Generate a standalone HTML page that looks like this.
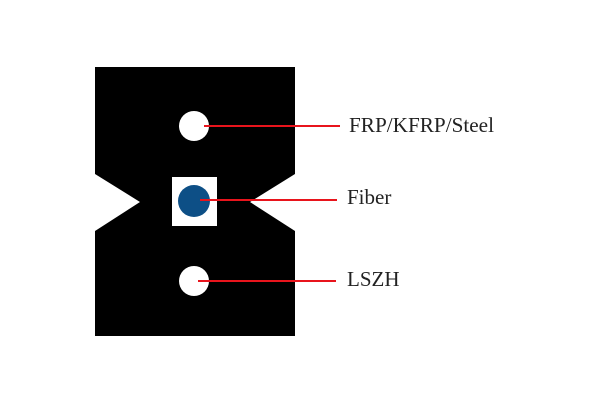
<!DOCTYPE html>
<html><head><style>html,body{margin:0;padding:0;background:#fff}</style></head>
<body>
<svg width="600" height="400" xmlns="http://www.w3.org/2000/svg">
<rect width="600" height="400" fill="#fff"/>
<polygon points="95,67 295,67 295,174 250,202 295,231 295,336 95,336 95,231 140,202 95,174" fill="#000"/>
<rect x="172" y="177" width="45" height="49" fill="#fff"/>
<circle cx="194" cy="126" r="15" fill="#fff"/>
<circle cx="194" cy="201" r="16" fill="#0d4f86"/>
<circle cx="194" cy="281" r="15" fill="#fff"/>
<g stroke="#e8141c" stroke-width="2">
<line x1="204" y1="126" x2="340" y2="126"/>
<line x1="200" y1="200" x2="337" y2="200"/>
<line x1="198" y1="281" x2="336" y2="281"/>
</g>
<g font-family="Liberation Serif, serif" font-size="21" fill="#222">
<text x="349" y="132" textLength="145" lengthAdjust="spacingAndGlyphs">FRP/KFRP/Steel</text>
<text x="347" y="204">Fiber</text>
<text x="347" y="286">LSZH</text>
</g>
</svg>
</body></html>
